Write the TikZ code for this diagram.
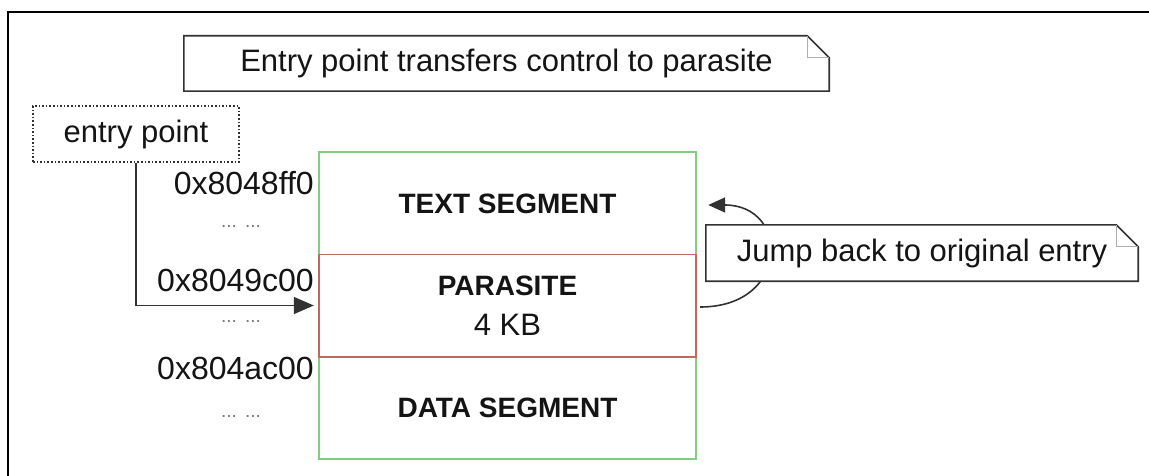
\documentclass[tikz,border=0pt]{standalone}
\usepackage{fontspec}
\setmainfont{Liberation Sans}
\usetikzlibrary{arrows.meta,calc}
\definecolor{segGreen}{RGB}{130,205,130}
\definecolor{segRed}{RGB}{190,105,95}
\definecolor{lineGray}{RGB}{50,50,50}
\definecolor{foldGray}{RGB}{175,175,175}
\definecolor{dotGray}{RGB}{120,120,120}
\definecolor{txt}{RGB}{20,20,20}
\begin{document}
\begin{tikzpicture}[x=1pt,y=-1pt,
  notebox/.style={draw=none,fill=white,inner sep=0pt,text=txt,font=\fontsize{31}{36}\selectfont},
  noteline/.style={draw=lineGray,line width=1.6pt,line join=miter},
  foldline/.style={draw=foldGray,line width=1pt},
  seg/.style={inner sep=0pt,minimum width=377pt,minimum height=102pt,text=txt,align=center},
  segfont/.style={font=\fontsize{28}{40}\selectfont\bfseries},
  addr/.style={anchor=east,inner sep=0pt,text=txt,font=\fontsize{32}{36}\selectfont},
  dotsnode/.style={inner sep=0pt,text=dotGray,font=\fontsize{19}{20}\selectfont},
  conn/.style={draw=lineGray,line width=1.6pt},
  bigtip/.style={-{Triangle[length=20pt,width=17pt]}},
  smalltip/.style={-{Triangle[length=17pt,width=15pt]}}
]
\useasboundingbox (0,0) rectangle (1149,476);
% outer frame (cut off at right and bottom)
\draw[line width=2pt,black] (8,476) -- (8,12) -- (1149,12);

% top note
\node[notebox,minimum width=645pt,minimum height=55pt] (topnote) at (506.5,63.5) {Entry point transfers control to parasite};
\draw[noteline] (topnote.south west) -- (topnote.north west) -- ($(topnote.north east)+(-22,0)$) -- ($(topnote.north east)+(0,22)$) -- (topnote.south east) -- cycle;
\draw[foldline] ($(topnote.north east)+(-22,0)$) |- ($(topnote.north east)+(0,22)$);

% entry point
\node[draw=lineGray,dotted,line width=1.6pt,inner sep=0pt,minimum width=206pt,minimum height=56pt,text=txt,font=\fontsize{31}{36}\selectfont] (ep) at (136,134) {entry point};

% memory segments
\node[seg,segfont] (ts) at (507.5,203.5) {TEXT SEGMENT};
\node[seg,font=\fontsize{31}{40}\selectfont] (par) at (507.5,305.5) {{\fontsize{28}{40}\selectfont\bfseries PARASITE}\\4 KB};
\node[seg,segfont] (ds) at (507.5,407.5) {DATA SEGMENT};
\draw[segGreen,line width=1.6pt] (ts.north west) rectangle (ds.south east);
\draw[segRed,line width=1.6pt] (par.north west) rectangle (par.south east);

% addresses
\node[addr] (a1) at (314,183) {0x8048ff0};
\node[addr] (a2) at (314,280) {0x8049c00};
\node[addr] (a3) at (314,368) {0x804ac00};
\node[dotsnode] (d1) at (241,226) {...\hspace{8pt}...};
\node[dotsnode] (d2) at (241,321) {...\hspace{8pt}...};
\node[dotsnode] (d3) at (241,416) {...\hspace{8pt}...};

% entry arrow
\draw[conn,bigtip] (ep.south) |- ([xshift=-5pt]par.west);

% jump back arrow
\draw[conn,smalltip] ([xshift=4pt,yshift=-1.5pt]par.east) .. controls +(90,0) and +(82,0) .. ([xshift=12pt,yshift=-1.5pt]ts.east);

% jump note
\node[notebox,minimum width=432pt,minimum height=56pt] (jump) at (922,253) {Jump back to original entry};
\draw[noteline] (jump.south west) -- (jump.north west) -- ($(jump.north east)+(-22,0)$) -- ($(jump.north east)+(0,22)$) -- (jump.south east) -- cycle;
\draw[foldline] ($(jump.north east)+(-22,0)$) |- ($(jump.north east)+(0,22)$);
\end{tikzpicture}
\end{document}
